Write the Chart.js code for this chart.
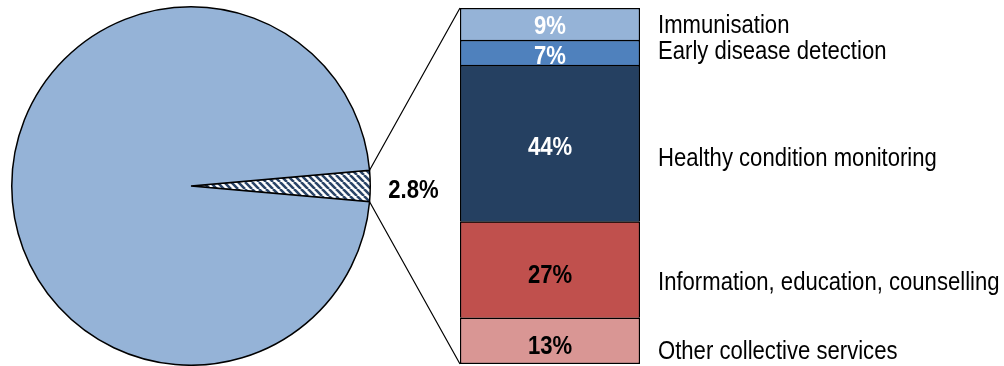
<!DOCTYPE html>
<html>
<head>
<meta charset="utf-8">
<script src="https://cdn.jsdelivr.net/npm/chart.js@4.4.1/dist/chart.umd.min.js"></script>
<style>
  html, body { margin: 0; padding: 0; background: #fff; }
  #wrap { position: relative; width: 1004px; height: 366px; overflow: hidden; }
  #wrap canvas { position: absolute; left: 0; top: 0; }
</style>
</head>
<body>
<div id="wrap">
  <canvas id="pie" width="1004" height="366"></canvas>
  <canvas id="bar" width="1004" height="366"></canvas>
</div>
<script>
// Share of spending: collective preventive services vs. everything else
const pieLabels = ['Collective preventive services', 'Other spending'];
const pieValues = [2.8, 97.2];

// Breakdown of the collective preventive services (top to bottom of the column)
const serviceCategories = [
  'Immunisation',
  'Early disease detection',
  'Healthy condition monitoring',
  'Information, education, counselling',
  'Other collective services'
];
const serviceShares = [9, 7, 44, 27, 13];

// Styling
const FONT = '"Liberation Sans", Arial, Helvetica, sans-serif';
const serviceColors = ['#95B3D7', '#4F81BD', '#254061', '#C0504D', '#D99694'];
const valueTextColors = ['#ffffff', '#ffffff', '#ffffff', '#000000', '#000000'];
const nameOffsets = [-1, -3.5, 13.5, 10.5, 8];
const valueOffsets = [0, 1.5, 2.5, 4, 3.5];
const TEXT_SHIFT = 2.5;
const SQUEEZE = 0.85;

function stripePattern() {
  const s = 7;
  const c = document.createElement('canvas');
  c.width = s; c.height = s;
  const g = c.getContext('2d');
  g.fillStyle = '#ffffff';
  g.fillRect(0, 0, s, s);
  g.strokeStyle = '#2B4568';
  g.lineWidth = 2.6;
  g.beginPath();
  for (let k = -1; k <= 1; k++) {
    g.moveTo(k * s, 0);
    g.lineTo(k * s + s, s);
  }
  g.stroke();
  return g.createPattern(c, 'repeat');
}

function squeezedText(ctx, text, x, y, align, font, color) {
  ctx.save();
  ctx.font = font;
  ctx.fillStyle = color;
  ctx.textBaseline = 'middle';
  ctx.textAlign = align;
  ctx.translate(x, y + TEXT_SHIFT);
  ctx.scale(SQUEEZE, 1);
  ctx.fillText(text, 0, 0);
  ctx.restore();
}

const pieChart = new Chart(document.getElementById('pie'), {
  type: 'pie',
  data: {
    labels: pieLabels,
    datasets: [{
      data: pieValues,
      backgroundColor: [stripePattern(), '#95B3D7'],
      borderColor: '#000000',
      borderWidth: 1.5,
      hoverOffset: 0
    }]
  },
  options: {
    responsive: false,
    animation: false,
    events: [],
    // centre the small slice on the 3 o'clock direction
    rotation: 90 - pieValues[0] * 3.6 / 2,
    layout: { padding: { left: 11, top: 6, right: 633, bottom: 0 } },
    plugins: { legend: { display: false }, tooltip: { enabled: false } }
  }
});

const n = serviceCategories.length;
const barDatasets = serviceCategories.map((name, i) => ({
  label: name,
  data: [serviceShares[i]],
  backgroundColor: serviceColors[i],
  borderColor: '#000000',
  borderSkipped: false,
  borderWidth: { top: 1.5, left: 1.5, right: 1.5, bottom: i === n - 1 ? 1.5 : 0 },
  barPercentage: 1,
  categoryPercentage: 1
})).reverse();

const breakdownLabels = {
  id: 'breakdownLabels',
  afterDatasetsDraw(chart) {
    const ctx = chart.ctx;
    const area = chart.chartArea;
    chart.data.datasets.forEach((ds, d) => {
      const bar = chart.getDatasetMeta(d).data[0];
      const i = n - 1 - d;
      const cy = (bar.y + bar.base) / 2;
      squeezedText(ctx, serviceShares[i] + '%', bar.x, cy + valueOffsets[i], 'center',
        'bold 26px ' + FONT, valueTextColors[i]);
      squeezedText(ctx, serviceCategories[i], area.right + 18, cy + nameOffsets[i], 'left',
        '26px ' + FONT, '#000000');
    });

    // connector lines from the pie slice to the column
    const arc = pieChart.getDatasetMeta(0).data[0];
    const topBar = chart.getDatasetMeta(n - 1).data[0];
    const bottomBar = chart.getDatasetMeta(0).data[0];
    const p1 = { x: arc.x + arc.outerRadius * Math.cos(arc.startAngle), y: arc.y + arc.outerRadius * Math.sin(arc.startAngle) };
    const p2 = { x: arc.x + arc.outerRadius * Math.cos(arc.endAngle), y: arc.y + arc.outerRadius * Math.sin(arc.endAngle) };
    const left = bottomBar.x - bottomBar.width / 2;
    ctx.save();
    ctx.strokeStyle = '#000000';
    ctx.lineWidth = 1.2;
    ctx.beginPath();
    ctx.moveTo(p1.x, p1.y);
    ctx.lineTo(left, topBar.y);
    ctx.moveTo(p2.x, p2.y);
    ctx.lineTo(left, bottomBar.base);
    ctx.stroke();
    ctx.restore();

    squeezedText(ctx, pieValues[0] + '%', arc.x + arc.outerRadius + 18, arc.y + 2, 'left',
      'bold 26px ' + FONT, '#000000');
  }
};

new Chart(document.getElementById('bar'), {
  type: 'bar',
  data: { labels: ['Collective preventive services'], datasets: barDatasets },
  options: {
    responsive: false,
    animation: false,
    events: [],
    layout: { padding: { left: 460, right: 364, top: 8, bottom: 2 } },
    scales: {
      x: { stacked: true, display: false },
      y: { stacked: true, display: false, min: 0, max: 100 }
    },
    plugins: { legend: { display: false }, tooltip: { enabled: false } }
  },
  plugins: [breakdownLabels]
});
</script>
</body>
</html>
